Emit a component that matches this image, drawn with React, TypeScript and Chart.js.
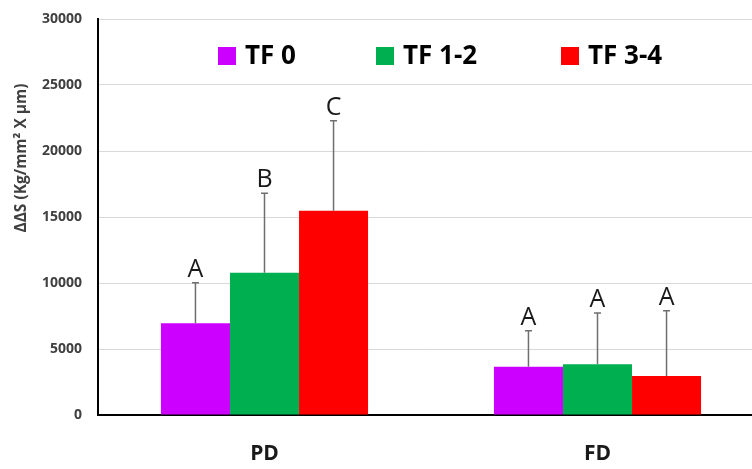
import React, { useEffect, useRef } from "react";
import { Chart, registerables } from "chart.js";

Chart.register(...registerables);

const categories = ["PD", "FD"];
const seriesNames = ["TF 0", "TF 1-2", "TF 3-4"];
const seriesColors = ["#CC00FF", "#00B050", "#FF0000"];
const tf0Values = [6950, 3660];
const tf12Values = [10780, 3840];
const tf34Values = [15480, 2950];
const tf0Errors = [3070, 2730];
const tf12Errors = [6010, 3890];
const tf34Errors = [6820, 4950];
const tf0Letters = ["A", "A"];
const tf12Letters = ["B", "A"];
const tf34Letters = ["C", "A"];
const yMin = 0;
const yMax = 30000;
const yStep = 5000;
const yTitle = "ΔΔS (Kg/mm² X µm)";

const FONT = "'Open Sans', 'Liberation Sans', sans-serif";

const errorsBySeries = [tf0Errors, tf12Errors, tf34Errors];
const lettersBySeries = [tf0Letters, tf12Letters, tf34Letters];

const errorBarPlugin = {
  id: "errorBars",
  afterDatasetsDraw(chart: any) {
    const ctx = chart.ctx;
    const yScale = chart.scales.y;
    ctx.save();
    chart.data.datasets.forEach((ds: any, i: number) => {
      const meta = chart.getDatasetMeta(i);
      meta.data.forEach((bar: any, j: number) => {
        const v = ds.data[j];
        const e = errorsBySeries[i][j];
        const x = bar.x;
        const y0 = yScale.getPixelForValue(v);
        const y1 = yScale.getPixelForValue(v + e);
        ctx.strokeStyle = "#6f6f6f";
        ctx.lineWidth = 1.5;
        ctx.beginPath();
        ctx.moveTo(x, y0);
        ctx.lineTo(x, y1);
        ctx.moveTo(x - 3.5, y1);
        ctx.lineTo(x + 3.5, y1);
        ctx.stroke();
        ctx.fillStyle = "#1a1a1a";
        ctx.font = `400 25px ${FONT}`;
        ctx.textAlign = "center";
        ctx.textBaseline = "alphabetic";
        ctx.fillText(lettersBySeries[i][j], x, y1 - 6);
      });
    });
    ctx.restore();
  },
};

const overlayPlugin = {
  id: "overlay",
  afterDraw(chart: any) {
    const ctx = chart.ctx;
    ctx.save();
    // legend
    const boxXs = [218, 376, 561];
    const boxY = 47;
    const box = 18;
    ctx.font = `700 26px ${FONT}`;
    ctx.textAlign = "left";
    ctx.textBaseline = "middle";
    seriesNames.forEach((name, i) => {
      ctx.fillStyle = seriesColors[i];
      ctx.fillRect(boxXs[i], boxY, box, box);
      ctx.fillStyle = "#000000";
      ctx.fillText(name, boxXs[i] + box + 9, boxY + box / 2 + 1);
    });
    // y title
    ctx.translate(22, 158);
    ctx.rotate(-Math.PI / 2);
    ctx.font = `700 15.5px ${FONT}`;
    ctx.fillStyle = "#404040";
    ctx.textAlign = "center";
    ctx.textBaseline = "middle";
    ctx.fillText(yTitle, 0, 0);
    ctx.restore();
  },
};

export default function App() {
  const canvasRef = useRef<HTMLCanvasElement | null>(null);

  useEffect(() => {
    if (!canvasRef.current) return;
    const datasets = [tf0Values, tf12Values, tf34Values].map((vals, i) => ({
      label: seriesNames[i],
      data: vals,
      backgroundColor: seriesColors[i],
      borderWidth: 0,
      barPercentage: 1,
      categoryPercentage: 0.622,
    }));
    const chart = new Chart(canvasRef.current, {
      type: "bar",
      data: { labels: categories, datasets },
      options: {
        responsive: false,
        animation: false,
        layout: { padding: { top: 19, right: 6, left: 0, bottom: 0 } },
        plugins: {
          legend: { display: false },
          tooltip: { enabled: false },
        },
        scales: {
          x: {
            grid: { display: false, drawTicks: false },
            border: { color: "#000000", width: 2 },
            ticks: {
              font: { family: FONT, size: 21, weight: "bold" },
              color: "#1a1a1a",
              padding: 26,
            },
            afterFit(scale: any) {
              scale.height = 54;
              scale.paddingLeft = 0;
              scale.paddingRight = 0;
            },
          },
          y: {
            min: yMin,
            max: yMax,
            ticks: {
              stepSize: yStep,
              font: { family: FONT, size: 14, weight: "bold" },
              color: "#404040",
              padding: 16,
              callback: (v: any) => String(v),
            },
            grid: { color: "#d9d9d9", lineWidth: 1, drawTicks: false },
            border: { color: "#000000", width: 2 },
            afterFit(scale: any) {
              scale.width = 98;
              scale.paddingTop = 0;
              scale.paddingBottom = 0;
            },
          },
        },
      },
      plugins: [errorBarPlugin, overlayPlugin],
    } as any);
    return () => chart.destroy();
  }, []);

  return (
    <div
      style={{
        position: "fixed",
        left: 0,
        top: 0,
        width: 752,
        height: 469,
        overflow: "hidden",
        background: "#ffffff",
      }}
    >
      <canvas
        ref={canvasRef}
        width={770}
        height={469}
        style={{ width: 770, height: 469, display: "block" }}
      />
    </div>
  );
}
